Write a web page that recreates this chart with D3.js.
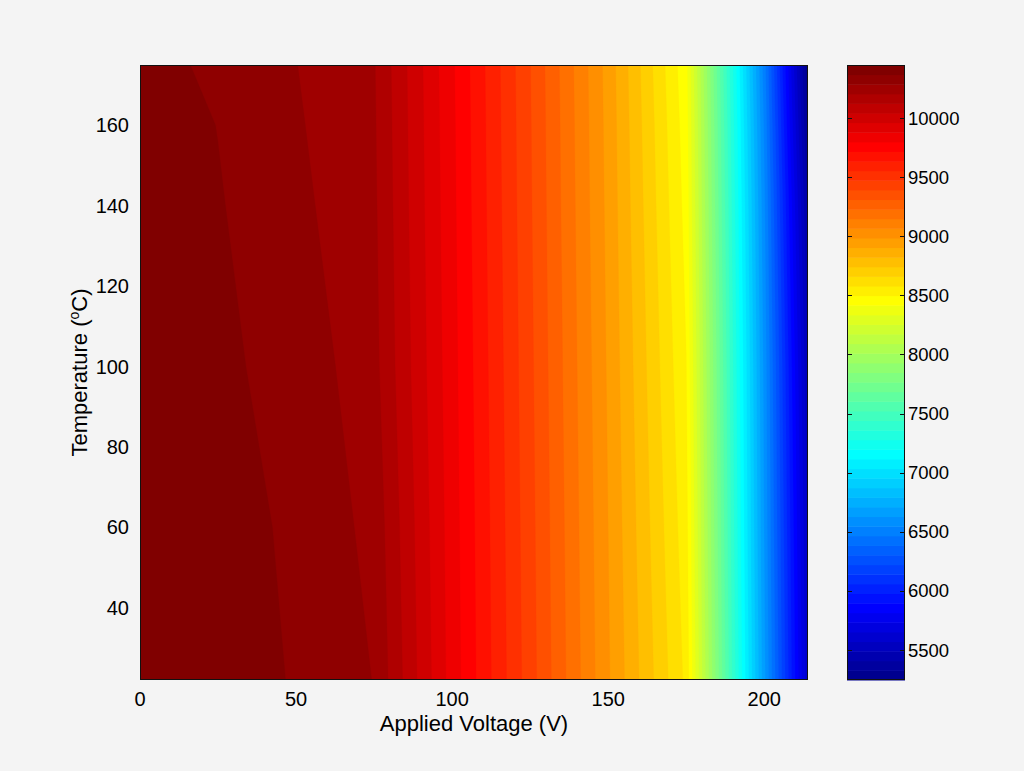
<!DOCTYPE html>
<html><head><meta charset="utf-8">
<script src="https://cdn.jsdelivr.net/npm/d3@7"></script>
<style>
html,body{margin:0;padding:0;background:#f4f4f4;}
svg{display:block;}
text{font-family:"Liberation Sans",Arial,Helvetica,sans-serif;fill:#000;}
</style></head><body>
<svg id="chart" width="1024" height="771"></svg>
<script>
// ---- data ----
const voltage = [0, 25, 50, 75, 100, 125, 150, 175, 200, 214];
const temperature = [22, 60, 100, 140, 160, 175];
// one row per temperature, one value per voltage
const valuesByTemperature = [
  [10449, 10417, 10360, 10284, 9845, 9428, 8995, 8560, 6650, 5580], // 22
  [10440, 10390, 10358, 10262, 9838, 9420, 8985, 8530, 6620, 5540], // 60
  [10432, 10382, 10342, 10232, 9829, 9411, 8974, 8500, 6600, 5480], // 100
  [10425, 10374, 10308, 10220, 9820, 9402, 8963, 8470, 6560, 5380], // 140
  [10420, 10366, 10296, 10215, 9816, 9398, 8958, 8455, 6530, 5300], // 160
  [10400, 10350, 10288, 10211, 9812, 9394, 8953, 8440, 6500, 5246]  // 175
];
const xTicks = [0, 50, 100, 150, 200];
const yTicks = [40, 60, 80, 100, 120, 140, 160];
const colorTicks = [5500, 6000, 6500, 7000, 7500, 8000, 8500, 9000, 9500, 10000];
const levelCount = 64;
const xTitle = "Applied Voltage (V)";

// ---- layout ----
const W = 1024, H = 771;
const P = {x0: 140, x1: 808, y0: 65, y1: 680};
const CB = {x0: 847, x1: 905};
const svg = d3.select('#chart');
svg.append('rect').attr('width', W).attr('height', H).attr('fill', '#f4f4f4');

const x = d3.scaleLinear().domain(d3.extent(voltage)).range([P.x0, P.x1]);
const y = d3.scaleLinear().domain(d3.extent(temperature)).range([P.y1, P.y0]);

const flat = valuesByTemperature.flat();
const [zmin, zmax] = d3.extent(flat);
const step = (zmax - zmin) / levelCount;
const thresholds = d3.range(levelCount).map(k => zmin + k * step);

function jet(t) {
  const c = v => Math.round(255 * Math.max(0, Math.min(1, v)));
  return `rgb(${c(1.5 - Math.abs(4 * t - 3))},${c(1.5 - Math.abs(4 * t - 2))},${c(1.5 - Math.abs(4 * t - 1))})`;
}

const n = voltage.length, m = temperature.length;
const contours = d3.contours().size([n, m]).thresholds(thresholds)(flat);

function gridToData(arr, c) {
  const t = Math.max(0, Math.min(arr.length - 1, c - 0.5));
  const i = Math.min(arr.length - 2, Math.floor(t));
  const f = t - i;
  return arr[i] + f * (arr[i + 1] - arr[i]);
}
const proj = d3.geoTransform({
  point(px, py) { this.stream.point(x(gridToData(voltage, px)), y(gridToData(temperature, py))); }
});
const path = d3.geoPath(proj);

svg.append('clipPath').attr('id', 'plotclip').append('rect')
  .attr('x', P.x0).attr('y', P.y0).attr('width', P.x1 - P.x0).attr('height', P.y1 - P.y0);

const g = svg.append('g').attr('clip-path', 'url(#plotclip)');
g.selectAll('path').data(contours).join('path')
  .attr('d', path)
  .attr('fill', (d, i) => jet((i + 1) / levelCount))
  .attr('stroke', (d, i) => jet((i + 1) / levelCount))
  .attr('stroke-width', 0.3);

svg.append('rect').attr('x', P.x0 + 0.5).attr('y', P.y0 + 0.5)
  .attr('width', P.x1 - P.x0 - 1).attr('height', P.y1 - P.y0 - 1)
  .attr('fill', 'none').attr('stroke', '#111').attr('stroke-width', 1);

// axis tick labels
const fsAxis = 20;
svg.append('g').selectAll('text').data(xTicks).join('text')
  .attr('x', d => x(d)).attr('y', 706).attr('text-anchor', 'middle')
  .attr('font-size', fsAxis).text(d => d);
svg.append('g').selectAll('text').data(yTicks).join('text')
  .attr('x', 129).attr('y', d => y(d) + 0.358 * fsAxis).attr('text-anchor', 'end')
  .attr('font-size', fsAxis).text(d => d);

svg.append('text').attr('x', (P.x0 + P.x1) / 2).attr('y', 731)
  .attr('text-anchor', 'middle').attr('font-size', 22).text(xTitle);

const yt = svg.append('text').attr('transform', `translate(87,${(P.y0 + P.y1) / 2}) rotate(-90)`)
  .attr('text-anchor', 'middle').attr('font-size', 22);
yt.append('tspan').text('Temperature (');
yt.append('tspan').attr('font-size', 14).attr('dy', -8).text('o');
yt.append('tspan').attr('dy', 8).text('C)');

// colorbar
const cy = d3.scaleLinear().domain([zmin, zmax]).range([P.y1, P.y0]);
svg.append('g').selectAll('rect').data(d3.range(levelCount)).join('rect')
  .attr('x', CB.x0).attr('width', CB.x1 - CB.x0)
  .attr('y', k => cy(zmin + (k + 1) * step))
  .attr('height', k => cy(zmin + k * step) - cy(zmin + (k + 1) * step) + 0.5)
  .attr('fill', k => jet((k + 1) / levelCount));
svg.append('rect').attr('x', CB.x0 + 0.5).attr('y', P.y0 + 0.5)
  .attr('width', CB.x1 - CB.x0 - 1).attr('height', P.y1 - P.y0 - 1)
  .attr('fill', 'none').attr('stroke', '#111').attr('stroke-width', 1);
const cbt = svg.append('g');
cbt.selectAll('line.l').data(colorTicks).join('line').attr('class', 'l')
  .attr('x1', CB.x0).attr('x2', CB.x0 + 5).attr('y1', d => Math.round(cy(d)) + 0.5).attr('y2', d => Math.round(cy(d)) + 0.5)
  .attr('stroke', '#111');
cbt.selectAll('line.r').data(colorTicks).join('line').attr('class', 'r')
  .attr('x1', CB.x1 - 5).attr('x2', CB.x1).attr('y1', d => Math.round(cy(d)) + 0.5).attr('y2', d => Math.round(cy(d)) + 0.5)
  .attr('stroke', '#111');
const fsCb = 18.5;
cbt.selectAll('text').data(colorTicks).join('text')
  .attr('x', 908).attr('y', d => cy(d) + 0.358 * fsCb)
  .attr('font-size', fsCb).text(d => d);
</script>
</body></html>
